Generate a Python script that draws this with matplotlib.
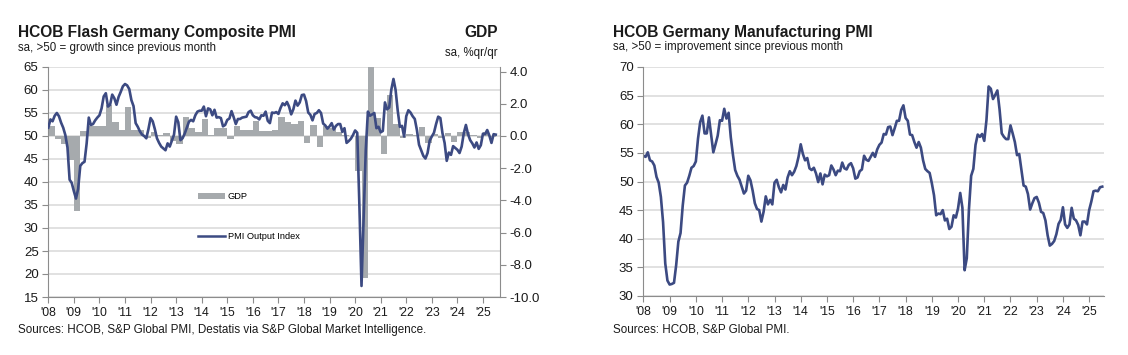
import numpy as np
import matplotlib.pyplot as plt
from matplotlib import transforms
from matplotlib.lines import Line2D
from matplotlib.patches import Patch
from matplotlib.ticker import FormatStrFormatter

plt.rcParams['font.family'] = ['Liberation Sans', 'DejaVu Sans']
plt.rcParams['axes.unicode_minus'] = False

# year tick labels, one per January from 2008
year_labels = ["'08", "'09", "'10", "'11", "'12", "'13", "'14", "'15", "'16",
               "'17", "'18", "'19", "'20", "'21", "'22", "'23", "'24", "'25"]

# Flash Germany Composite PMI output index, monthly Jan 2008 - Jul 2025
composite_pmi = [
    51.8, 53.6, 53.2, 54.4, 55.0, 54.3, 52.9, 51.8, 50.2, 47.5, 40.5, 39.8,  # 2008
    38.0, 36.4, 38.5, 43.5, 44.1, 44.4, 48.4, 54.0, 52.4, 52.6, 53.4, 54.0,  # 2009
    54.5, 56.0, 58.6, 59.3, 56.4, 56.8, 59.0, 58.2, 56.8, 58.5, 59.6, 60.8,  # 2010
    61.3, 61.0, 60.2, 57.8, 56.5, 52.8, 52.0, 51.0, 50.3, 50.0, 49.5, 51.5,  # 2011
    53.9, 53.2, 51.5, 49.5, 48.5, 47.7, 47.3, 46.9, 48.4, 47.7, 49.0, 50.3,  # 2012
    54.2, 53.0, 49.1, 49.5, 50.5, 51.8, 53.1, 53.5, 53.2, 54.5, 55.3, 55.5,  # 2013
    55.5, 56.4, 54.3, 56.0, 55.8, 54.5, 55.7, 54.0, 54.1, 53.9, 52.1, 52.4,  # 2014
    53.5, 53.8, 55.4, 54.1, 52.6, 53.7, 53.7, 54.0, 54.1, 54.2, 55.2, 55.5,  # 2015
    54.5, 54.1, 54.0, 53.6, 54.5, 54.4, 55.3, 53.3, 52.8, 55.1, 55.0, 55.2,  # 2016
    54.8, 56.1, 57.1, 56.7, 57.4, 56.4, 54.7, 55.8, 57.7, 56.6, 57.3, 58.9,  # 2017
    59.0, 57.6, 55.1, 54.6, 53.4, 54.8, 55.0, 55.6, 55.0, 52.7, 52.3, 51.6,  # 2018
    52.1, 52.8, 51.4, 52.2, 52.6, 52.6, 50.9, 51.7, 48.5, 48.9, 49.4, 50.2,  # 2019
    51.2, 50.7, 35.0, 17.4, 32.3, 47.0, 55.3, 54.4, 54.7, 55.0, 51.7, 52.0,  # 2020
    50.8, 51.1, 57.3, 55.8, 56.2, 60.1, 62.4, 60.0, 55.5, 52.0, 52.2, 49.9,  # 2021
    54.3, 55.6, 55.1, 54.3, 53.7, 51.3, 48.1, 46.9, 45.7, 45.1, 46.3, 49.0,  # 2022
    49.9, 50.7, 52.6, 54.2, 53.9, 50.6, 48.5, 44.6, 46.4, 45.9, 47.8, 47.4,  # 2023
    47.0, 46.3, 47.7, 50.6, 52.4, 50.4, 49.1, 48.4, 47.5, 48.6, 47.2, 48.0,  # 2024
    50.5, 50.4, 51.3, 50.1, 48.5, 50.4, 50.3,                                # 2025
]

# GDP, % q/q, quarterly 2008 Q1 - 2025 Q2
gdp_qoq = [
    0.6, -0.2, -0.5, -1.5,
    -4.65, 0.3, 0.6, 0.6,
    0.6, 1.9, 0.9, 0.4,
    1.8, 0.4, 0.4, -0.1,
    0.27, 0.06, 0.2, -0.3,
    -0.5, 1.15, 0.48, 0.25,
    1.03, 0.06, 0.48, 0.48,
    -0.2, 0.62, 0.4, 0.4,
    0.93, 0.3, 0.3, 0.4,
    1.2, 0.9, 0.75, 0.95,
    -0.45, 0.7, -0.7, 0.6,
    0.5, 0.25, 0.05, 0.0,
    -2.2, -8.85, 8.7, 1.1,
    -1.1, 2.55, 0.75, -0.15,
    0.15, 0.05, 0.55, -0.45,
    0.1, -0.1, 0.2, -0.35,
    0.22, 0.22, 0.05, -0.15,
    0.27, -0.05,
]

# HCOB Germany Manufacturing PMI, monthly Jan 2008 - Jul 2025
manufacturing_pmi = [
    54.5, 54.3, 55.1, 53.7, 53.5, 52.8, 50.8, 49.8, 47.3, 42.9, 35.7, 32.7,  # 2008
    32.0, 32.1, 32.3, 35.4, 39.5, 41.0, 45.8, 49.3, 49.8, 51.0, 52.4, 52.7,  # 2009
    53.5, 57.5, 60.4, 61.5, 58.4, 58.4, 61.2, 58.1, 55.1, 56.5, 58.0, 60.7,  # 2010
    60.6, 62.7, 61.0, 62.0, 57.7, 54.6, 52.0, 51.0, 50.3, 49.1, 47.9, 48.4,  # 2011
    51.0, 50.2, 48.4, 46.2, 45.2, 45.0, 43.0, 44.7, 47.4, 46.0, 46.8, 46.0,  # 2012
    49.8, 50.3, 49.0, 48.1, 49.4, 48.6, 50.7, 51.8, 51.1, 51.7, 52.7, 54.3,  # 2013
    56.5, 54.8, 53.7, 54.1, 52.3, 52.0, 52.4, 51.4, 49.9, 51.4, 49.5, 51.2,  # 2014
    50.9, 51.1, 52.8, 52.1, 51.1, 51.9, 51.8, 53.3, 52.3, 52.1, 52.9, 53.2,  # 2015
    52.3, 50.5, 50.7, 51.8, 52.1, 54.5, 53.8, 53.6, 54.3, 55.0, 54.3, 55.6,  # 2016
    56.4, 56.8, 58.3, 58.2, 59.5, 59.6, 58.1, 59.3, 60.6, 60.6, 62.5, 63.3,  # 2017
    61.1, 60.6, 58.2, 58.1, 56.9, 55.9, 56.9, 55.9, 53.7, 52.2, 51.8, 51.5,  # 2018
    49.7, 47.6, 44.1, 44.4, 44.3, 45.0, 43.2, 43.5, 41.7, 42.1, 44.1, 43.7,  # 2019
    45.3, 48.0, 45.4, 34.5, 36.6, 45.2, 51.0, 52.2, 56.4, 58.2, 57.8, 58.3,  # 2020
    57.1, 60.7, 66.6, 66.2, 64.4, 65.1, 65.9, 62.6, 58.4, 57.8, 57.4, 57.4,  # 2021
    59.8, 58.4, 56.9, 54.6, 54.8, 52.0, 49.3, 49.1, 47.8, 45.1, 46.2, 47.1,  # 2022
    47.3, 46.3, 44.7, 44.5, 43.2, 40.6, 38.8, 39.1, 39.6, 40.8, 42.6, 43.3,  # 2023
    45.5, 42.5, 41.9, 42.5, 45.4, 43.5, 43.2, 42.4, 40.6, 43.0, 43.0, 42.5,  # 2024
    45.0, 46.5, 48.3, 48.4, 48.3, 49.0, 49.1,                                # 2025
]

NAVY = '#3c4a82'
GREY = '#a6aaad'
GRID = '#d9d9d9'
AXIS = '#8c8c8c'
TXT = '#1a1a1a'

W, H = 1128, 355
fig = plt.figure(figsize=(W / 100, H / 100), dpi=100)


def px_axes(x0, y0, x1, y1):
    return fig.add_axes([x0 / W, 1 - y1 / H, (x1 - x0) / W, (y1 - y0) / H])


def style_axes(ax, xmax):
    ax.set_xlim(0, xmax)
    ax.set_xticks(np.arange(len(year_labels)) * 12)
    ax.set_xticklabels(year_labels)
    ax.grid(axis='y', color=GRID, lw=1.1)
    ax.set_axisbelow(True)
    for side in ['top', 'right']:
        ax.spines[side].set_visible(False)
    for side in ['left', 'bottom']:
        ax.spines[side].set_color(AXIS)
    ax.tick_params(axis='both', color=AXIS, length=4, labelcolor=TXT)
    ax.tick_params(axis='x', labelsize=8.8, pad=3)
    ax.tick_params(axis='y', labelsize=9.5, pad=3)


# ---- left: composite PMI vs GDP ----
ax = px_axes(48.3, 67, 500, 297)
gdp = ax.twinx()
style_axes(ax, 212)
ax.set_ylim(15, 65)
ax.set_yticks(np.arange(15, 66, 5))

# GDP axis aligned so that 0.0 sits on the 50 line
gdp.set_ylim((15 - 50) / 3.5, (65 - 50) / 3.5)
gdp.set_yticks(np.arange(-10, 4.1, 2))
gdp.yaxis.set_major_formatter(FormatStrFormatter('%.1f'))
for side in ['top', 'left', 'bottom']:
    gdp.spines[side].set_visible(False)
gdp.spines['right'].set_color(AXIS)
gdp.tick_params(axis='y', color=AXIS, length=4, labelsize=9.5, pad=3, labelcolor=TXT)

months = np.arange(len(composite_pmi))
quarters = np.arange(len(gdp_qoq)) * 3 + 1.5
bar_tr = transforms.blended_transform_factory(ax.transData, gdp.transData)
ax.bar(quarters, gdp_qoq, width=3, color=GREY, transform=bar_tr, zorder=1)
ax.plot(months, composite_pmi, color=NAVY, lw=1.9, zorder=3)
ax.set_ylim(15, 65)
ax.set_xlim(0, 212)

handles = [Patch(facecolor=GREY, edgecolor='none'), Line2D([], [], color=NAVY, lw=1.8)]
ax.legend(handles, ['GDP', 'PMI Output Index'], loc='upper left',
          bbox_to_anchor=(0.331, 0.455), frameon=False, fontsize=6.7,
          labelspacing=3.3, handlelength=2.9, handletextpad=0.3,
          borderpad=0, borderaxespad=0)

fig.text(18 / W, 1 - 37 / H, 'HCOB Flash Germany Composite PMI', fontsize=11.2,
         weight='bold', va='baseline', color=TXT)
fig.text(18 / W, 1 - 51 / H, 'sa, >50 = growth since previous month', fontsize=8.3,
         va='baseline', color=TXT)
fig.text(498 / W, 1 - 37 / H, 'GDP', fontsize=11.2, weight='bold', ha='right',
         va='baseline', color=TXT)
fig.text(498 / W, 1 - 56 / H, 'sa, %qr/qr', fontsize=8.3, ha='right',
         va='baseline', color=TXT)
fig.text(18 / W, 1 - 333 / H,
         'Sources: HCOB, S&P Global PMI, Destatis via S&P Global Market Intelligence.',
         fontsize=8.4, va='baseline', color=TXT)

# ---- right: manufacturing PMI ----
ax2 = px_axes(643.4, 67, 1104, 296)
style_axes(ax2, 210.8)
ax2.plot(np.arange(len(manufacturing_pmi)), manufacturing_pmi, color=NAVY, lw=1.9)
ax2.set_ylim(30, 70)
ax2.set_yticks(np.arange(30, 71, 5))

fig.text(613 / W, 1 - 37 / H, 'HCOB Germany Manufacturing PMI', fontsize=11.2,
         weight='bold', va='baseline', color=TXT)
fig.text(613 / W, 1 - 50 / H, 'sa, >50 = improvement since previous month',
         fontsize=8.3, va='baseline', color=TXT)
fig.text(613 / W, 1 - 333 / H, 'Sources: HCOB, S&P Global PMI.', fontsize=8.4,
         va='baseline', color=TXT)

fig.savefig('out.png', dpi=100)
